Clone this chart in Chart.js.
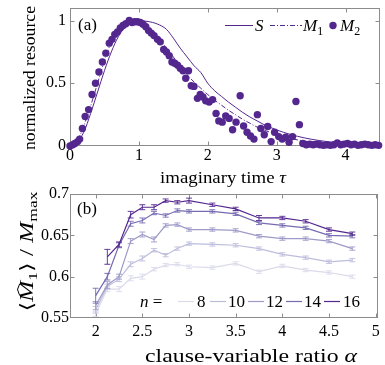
<!DOCTYPE html>
<html>
<head>
<meta charset="utf-8">
<script src="https://cdn.jsdelivr.net/npm/chart.js@4.4.1/dist/chart.umd.min.js"></script>
<style>
  html, body { margin: 0; padding: 0; background: #fff; }
  #wrap { position: relative; width: 385px; height: 365px; }
  .box { position: absolute; left: 0; width: 385px; }
</style>
</head>
<body>
<div id="wrap">
  <div class="box" style="top:0;height:190px"><canvas id="chartA"></canvas></div>
  <div class="box" style="top:180px;height:185px"><canvas id="chartB"></canvas></div>
</div>
<script>
// ---- panel (a): normalized resource vs imaginary time ----
const tauS = [0, 0.1, 0.2, 0.3, 0.4, 0.5, 0.6, 0.7, 0.8, 0.9, 1.0, 1.1, 1.2, 1.3, 1.4, 1.5, 1.6, 1.7, 1.8, 1.9,
  2.0, 2.1, 2.2, 2.3, 2.4, 2.5, 2.6, 2.7, 2.8, 2.9, 3.0, 3.2, 3.4, 3.6, 3.8, 4.0, 4.25, 4.5];
const sVals = [0, 0.03, 0.11, 0.26, 0.43, 0.6, 0.75, 0.87, 0.95, 0.99, 1.0, 0.995, 0.985, 0.965, 0.93, 0.86, 0.78, 0.71, 0.64, 0.585,
  0.5, 0.44, 0.395, 0.35, 0.31, 0.27, 0.235, 0.205, 0.175, 0.15, 0.128, 0.092, 0.065, 0.045, 0.03, 0.02, 0.013, 0.008];

const tauM1 = tauS;
const m1Vals = [0, 0.04, 0.16, 0.32, 0.5, 0.68, 0.83, 0.93, 0.985, 1.0, 0.99, 0.96, 0.91, 0.85, 0.78, 0.71, 0.64, 0.57, 0.51, 0.46,
  0.41, 0.365, 0.325, 0.285, 0.25, 0.215, 0.185, 0.155, 0.13, 0.11, 0.09, 0.06, 0.04, 0.027, 0.018, 0.012, 0.008, 0.005];

const tauM2 = [0, 0.04, 0.07, 0.11, 0.14, 0.18, 0.22, 0.27, 0.32, 0.37, 0.42, 0.47, 0.52, 0.57, 0.61, 0.65, 0.69, 0.73, 0.77, 0.81,
  0.86, 0.9, 0.94, 0.98, 1.02, 1.06, 1.1, 1.14, 1.18, 1.22, 1.27, 1.31, 1.36, 1.4, 1.44, 1.48, 1.52, 1.56, 1.6, 1.64,
  1.68, 1.72, 1.76, 1.8, 1.85, 1.89, 1.93, 1.97, 2.02, 2.07, 2.12, 2.16, 2.21, 2.26, 2.31, 2.36, 2.41, 2.47, 2.52, 2.57,
  2.62, 2.67, 2.72, 2.77, 2.82, 2.87, 2.92, 2.97, 3.03, 3.08, 3.13, 3.18, 3.23, 3.28, 3.33, 3.38, 3.43, 3.48, 3.53, 3.58,
  3.63, 3.68, 3.73, 3.78, 3.83, 3.88, 3.93, 3.98, 4.03, 4.08, 4.13, 4.18, 4.23, 4.28, 4.33, 4.38, 4.43, 4.48];
const m2Vals = [0, 0.01, 0.02, 0.035, 0.055, 0.14, 0.235, 0.29, 0.41, 0.5, 0.59, 0.67, 0.74, 0.82, 0.85, 0.89, 0.91, 0.94, 0.96, 0.975,
  1.0, 0.985, 0.99, 0.99, 0.985, 0.97, 0.95, 0.92, 0.9, 0.88, 0.85, 0.83, 0.77, 0.75, 0.72, 0.67, 0.66, 0.645, 0.62, 0.6,
  0.54, 0.6, 0.48, 0.475, 0.38, 0.41, 0.39, 0.36, 0.35, 0.37, 0.26, 0.2, 0.19, 0.24, 0.22, 0.13, 0.19, 0.4, 0.16, 0.11,
  0.08, 0.055, 0.25, 0.14, 0.09, 0.155, 0.035, 0.11, 0.075, 0.055, 0.07, 0.03, 0.075, 0.355, 0.17, 0.02, 0.01, 0.015, 0.01, 0.015,
  0.01, 0.005, 0.01, 0.005, 0.01, 0.025, 0.01, 0.015, 0.02, 0.01, 0.015, 0.005, 0.01, 0.015, 0.01, 0.005, 0.01, 0.005];

const tauTicks = [0, 1, 2, 3, 4];
const tauTickLabels = ['0', '1', '2', '3', '4'];
const resTicks = [0, 0.5, 1];
const resTickLabels = ['0', '0.5', '1'];

// ---- panel (b): <M1>/Mmax vs clause-variable ratio, per n ----
const alphas = [2, 2.125, 2.25, 2.375, 2.5, 2.625, 2.75, 2.875, 3, 3.25, 3.5, 3.75, 4, 4.25, 4.5, 4.75];
const nLabels = ['8', '10', '12', '14', '16'];
const n8  = [0.555, 0.585, 0.585, 0.598, 0.600, 0.609, 0.614, 0.615, 0.612, 0.611, 0.616, 0.606, 0.613, 0.608, 0.605, 0.600];
const n10 = [0.560, 0.588, 0.597, 0.615, 0.622, 0.632, 0.626, 0.634, 0.640, 0.639, 0.638, 0.634, 0.627, 0.623, 0.618, 0.620];
const n12 = [0.565, 0.590, 0.600, 0.643, 0.651, 0.645, 0.662, 0.663, 0.657, 0.657, 0.656, 0.649, 0.646, 0.646, 0.643, 0.634];
const n14 = [0.577, 0.600, 0.638, 0.664, 0.668, 0.677, 0.674, 0.680, 0.679, 0.679, 0.676, 0.665, 0.662, 0.659, 0.650, 0.649];
const n16 = [null, 0.624, 0.639, 0.675, 0.684, 0.684, 0.692, 0.690, 0.692, 0.687, 0.682, 0.671, 0.671, 0.667, 0.657, 0.652];
const e8  = [0.003, 0.003, 0.003, 0.003, 0.003, 0.002, 0.002, 0.002, 0.002, 0.002, 0.002, 0.002, 0.002, 0.002, 0.002, 0.002];
const e10 = [0.004, 0.003, 0.003, 0.003, 0.003, 0.002, 0.002, 0.002, 0.002, 0.002, 0.002, 0.002, 0.002, 0.002, 0.002, 0.002];
const e12 = [0.005, 0.004, 0.003, 0.003, 0.003, 0.003, 0.002, 0.002, 0.002, 0.002, 0.002, 0.002, 0.002, 0.002, 0.002, 0.002];
const e14 = [0.009, 0.004, 0.003, 0.003, 0.003, 0.002, 0.002, 0.002, 0.002, 0.002, 0.002, 0.002, 0.002, 0.002, 0.002, 0.002];
const e16 = [null, 0.009, 0.003, 0.004, 0.003, 0.003, 0.002, 0.002, 0.003, 0.002, 0.002, 0.003, 0.002, 0.002, 0.002, 0.002];

const alphaTicks = [2, 2.5, 3, 3.5, 4, 4.5, 5];
const alphaTickLabels = ['2', '2.5', '3', '3.5', '4', '4.5', '5'];
const ratioTicks = [0.55, 0.6, 0.65, 0.7];
const ratioTickLabels = ['0.55', '0.6', '0.65', '0.7'];

const purple = '#54278f';
const nColors = ['#dadaeb', '#bcbddc', '#9e9ac8', '#756bb1', '#54278f'];
const serif = '"Liberation Serif", "DejaVu Serif", serif';
const frameColor = '#8c8c8c';

function toXY(xs, ys) {
  return xs.map((x, i) => ({ x: x, y: ys[i] }));
}

// draws a row of text pieces (roman / italic / subscript) on one baseline
function rich(ctx, parts, x, y, size, align) {
  const fontFor = p => (p.i ? 'italic ' : '') + (p.s ? size * 0.7 : size) + 'px ' + serif;
  let total = 0;
  parts.forEach(p => {
    ctx.font = fontFor(p);
    p.w = ctx.measureText(p.t).width;
    total += p.w;
  });
  let cx = align === 'center' ? x - total / 2 : (align === 'right' ? x - total : x);
  parts.forEach(p => {
    ctx.font = fontFor(p);
    ctx.fillText(p.t, cx, y + (p.s ? size * 0.22 : 0));
    if (p.hat) {
      ctx.save();
      ctx.strokeStyle = ctx.fillStyle;
      ctx.lineWidth = 0.9;
      ctx.beginPath();
      ctx.moveTo(cx + p.w * 0.3, y - size * 0.74);
      ctx.lineTo(cx + p.w * 0.58, y - size * 0.86);
      ctx.lineTo(cx + p.w * 0.86, y - size * 0.74);
      ctx.stroke();
      ctx.restore();
    }
    cx += p.w;
  });
  return total;
}

// same, centred on (x, y) and stretched sideways to a given width (Computer Modern runs wide)
function richFit(ctx, parts, x, y, size, width) {
  ctx.save();
  const probe = document.createElement('canvas').getContext('2d');
  const natural = rich(probe, parts.map(p => Object.assign({}, p)), 0, 0, size, 'left');
  ctx.translate(x, y);
  ctx.scale(width / natural, 1);
  rich(ctx, parts, 0, 0, size, 'center');
  ctx.restore();
}

function fixedTicks(values) {
  return scale => { scale.ticks = values.map(v => ({ value: v })); };
}

function labelFor(values, labels) {
  return v => {
    const i = values.findIndex(t => Math.abs(t - v) < 1e-9);
    return i >= 0 ? labels[i] : '';
  };
}

// box round the plot, with short inward ticks on all four sides
const frame = {
  id: 'frame',
  beforeDatasetsDraw(chart) {
    const { ctx, chartArea: a, scales: { x, y } } = chart;
    const L = Math.round(a.left) + 0.5, R = Math.round(a.right) - 0.5;
    const T = Math.round(a.top) + 0.5, B = Math.round(a.bottom) - 0.5;
    ctx.save();
    ctx.strokeStyle = frameColor;
    ctx.lineWidth = 1;
    ctx.strokeRect(L, T, R - L, B - T);
    ctx.beginPath();
    x.ticks.forEach(t => {
      const px = Math.round(x.getPixelForValue(t.value)) + 0.5;
      if (px < L + 1 || px > R - 1) return;
      ctx.moveTo(px, B); ctx.lineTo(px, B - 4);
      ctx.moveTo(px, T); ctx.lineTo(px, T + 4);
    });
    y.ticks.forEach(t => {
      const py = Math.round(y.getPixelForValue(t.value)) + 0.5;
      if (py < T + 1 || py > B - 1) return;
      ctx.moveTo(L, py); ctx.lineTo(L + 4, py);
      ctx.moveTo(R, py); ctx.lineTo(R - 4, py);
    });
    ctx.stroke();
    ctx.restore();
  }
};

// error bars with caps, drawn right after each series' line
const errorBars = {
  id: 'errorBars',
  afterDatasetDraw(chart, args) {
    const ds = chart.data.datasets[args.index];
    if (!ds.errors) return;
    const { ctx, scales: { x, y } } = chart;
    ctx.save();
    ctx.strokeStyle = ds.borderColor;
    ctx.lineWidth = 0.9;
    ctx.beginPath();
    ds.data.forEach((p, i) => {
      const e = ds.errors[i];
      if (p.y == null || e == null) return;
      const px = x.getPixelForValue(p.x);
      const y1 = y.getPixelForValue(p.y - e);
      const y2 = y.getPixelForValue(p.y + e);
      ctx.moveTo(px, y1); ctx.lineTo(px, y2);
      ctx.moveTo(px - 3, y1); ctx.lineTo(px + 3, y1);
      ctx.moveTo(px - 3, y2); ctx.lineTo(px + 3, y2);
    });
    ctx.stroke();
    ctx.restore();
  }
};

const textA = {
  id: 'textA',
  afterDraw(chart) {
    const ctx = chart.ctx, a = chart.chartArea;
    ctx.save();
    ctx.fillStyle = '#000';
    ctx.textAlign = 'left';
    ctx.textBaseline = 'alphabetic';
    richFit(ctx, [{ t: 'imaginary time ' }, { t: 'τ', i: true }], 223, 183, 17, 126);
    ctx.save();
    ctx.translate(35, (a.top + a.bottom) / 2 + 1);
    ctx.rotate(-Math.PI / 2);
    richFit(ctx, [{ t: 'normalized resource' }], 0, 0, 17, 144);
    ctx.restore();
    rich(ctx, [{ t: '(a)' }], 78, 30, 17, 'left');

    // legend: S, M1, M2
    const ly = 25.5;
    ctx.strokeStyle = purple;
    ctx.lineWidth = 1;
    ctx.beginPath(); ctx.moveTo(225, ly); ctx.lineTo(253, ly); ctx.stroke();
    rich(ctx, [{ t: 'S', i: true }], 255, 31, 17, 'left');
    ctx.setLineDash([5, 2, 1, 2]);
    ctx.beginPath(); ctx.moveTo(270, ly); ctx.lineTo(302, ly); ctx.stroke();
    ctx.setLineDash([]);
    rich(ctx, [{ t: 'M', i: true }, { t: '1', s: true }], 303, 31, 17, 'left');
    ctx.fillStyle = purple;
    ctx.beginPath(); ctx.arc(333, ly, 3.7, 0, Math.PI * 2); ctx.fill();
    ctx.fillStyle = '#000';
    rich(ctx, [{ t: 'M', i: true }, { t: '2', s: true }], 340, 31, 17, 'left');
    ctx.restore();
  }
};

const textB = {
  id: 'textB',
  afterDraw(chart) {
    const ctx = chart.ctx;
    ctx.save();
    ctx.fillStyle = '#000';
    ctx.textAlign = 'left';
    ctx.textBaseline = 'alphabetic';
    richFit(ctx, [{ t: 'clause-variable ratio ' }, { t: 'α', i: true }], 251, 181.5, 18, 212);
    ctx.save();
    ctx.translate(33, 71.5);
    ctx.rotate(-Math.PI / 2);
    richFit(ctx, [{ t: '⟨' }, { t: 'M', i: true, hat: true }, { t: '1', s: true }, { t: '⟩' }, { t: ' / ' },
      { t: 'M', i: true }, { t: 'max', s: true }], 0, 0, 18, 120);
    ctx.restore();
    rich(ctx, [{ t: '(b)' }], 77, 34, 17, 'left');

    // legend: n = 8 10 12 14 16
    const ly = 121.5;
    rich(ctx, [{ t: 'n', i: true }, { t: ' =' }], 140, 127, 17, 'left');
    const lineX = [178, 210, 248, 286, 324];
    const textX = [197, 228, 266, 304, 343];
    ctx.lineWidth = 1.2;
    nLabels.forEach((lab, i) => {
      ctx.strokeStyle = nColors[i];
      ctx.beginPath(); ctx.moveTo(lineX[i], ly); ctx.lineTo(lineX[i] + 16, ly); ctx.stroke();
      rich(ctx, [{ t: lab }], textX[i], 127, 17, 'left');
    });
    ctx.restore();
  }
};

const tickFont = { family: serif, size: 16 };

new Chart(document.getElementById('chartA'), {
  type: 'scatter',
  data: {
    datasets: [
      { label: 'M2', data: toXY(tauM2, m2Vals), showLine: false, pointRadius: 3.7, pointBorderWidth: 0,
        pointBackgroundColor: purple, backgroundColor: purple, clip: false, order: 0 },
      { label: 'M1', data: toXY(tauM1, m1Vals), showLine: true, borderColor: purple, borderWidth: 1,
        borderDash: [5, 2, 1, 2], pointRadius: 0, cubicInterpolationMode: 'monotone', order: 1 },
      { label: 'S', data: toXY(tauS, sVals), showLine: true, borderColor: purple, borderWidth: 1,
        pointRadius: 0, cubicInterpolationMode: 'monotone', order: 2 }
    ]
  },
  options: {
    responsive: true,
    maintainAspectRatio: false,
    animation: false,
    layout: { padding: { top: 8, right: 5, left: 0, bottom: 0 } },
    plugins: { legend: { display: false }, tooltip: { enabled: false } },
    scales: {
      x: {
        type: 'linear', min: 0, max: 4.5,
        afterBuildTicks: fixedTicks(tauTicks),
        afterFit: s => { s.height = 44; s.paddingLeft = 0; s.paddingRight = 0; },
        ticks: { callback: labelFor(tauTicks, tauTickLabels), font: tickFont, color: '#000',
          padding: 0, autoSkip: false, maxRotation: 0 },
        grid: { display: false, drawTicks: false },
        border: { display: false }
      },
      y: {
        type: 'linear', min: 0, max: 1.1,
        afterBuildTicks: fixedTicks(resTicks),
        afterFit: s => { s.width = 70; s.paddingTop = 0; s.paddingBottom = 0; },
        ticks: { callback: labelFor(resTicks, resTickLabels), font: tickFont, color: '#000', padding: 4 },
        grid: { display: false, drawTicks: false },
        border: { display: false }
      }
    }
  },
  plugins: [frame, textA]
});

const nSeries = [n8, n10, n12, n14, n16];
const nErrors = [e8, e10, e12, e14, e16];

new Chart(document.getElementById('chartB'), {
  type: 'scatter',
  data: {
    datasets: nSeries.map((vals, i) => ({
      label: 'n = ' + nLabels[i],
      data: toXY(alphas, vals),
      errors: nErrors[i],
      showLine: true,
      borderColor: nColors[i],
      borderWidth: 1.2,
      pointRadius: 0,
      order: nSeries.length - i
    }))
  },
  options: {
    responsive: true,
    maintainAspectRatio: false,
    animation: false,
    layout: { padding: { top: 14, right: 7, left: 0, bottom: 0 } },
    plugins: { legend: { display: false }, tooltip: { enabled: false } },
    scales: {
      x: {
        type: 'linear', min: 1.725, max: 5.025,
        afterBuildTicks: fixedTicks(alphaTicks),
        afterFit: s => { s.height = 47; s.paddingLeft = 0; s.paddingRight = 0; },
        ticks: { callback: labelFor(alphaTicks, alphaTickLabels), font: tickFont, color: '#000',
          padding: 4, autoSkip: false, maxRotation: 0 },
        grid: { display: false, drawTicks: false },
        border: { display: false }
      },
      y: {
        type: 'linear', min: 0.55, max: 0.7,
        afterBuildTicks: fixedTicks(ratioTicks),
        afterFit: s => { s.width = 70; s.paddingTop = 0; s.paddingBottom = 0; },
        ticks: { callback: labelFor(ratioTicks, ratioTickLabels), font: tickFont, color: '#000', padding: 1 },
        grid: { display: false, drawTicks: false },
        border: { display: false }
      }
    }
  },
  plugins: [frame, errorBars, textB]
});
</script>
</body>
</html>
